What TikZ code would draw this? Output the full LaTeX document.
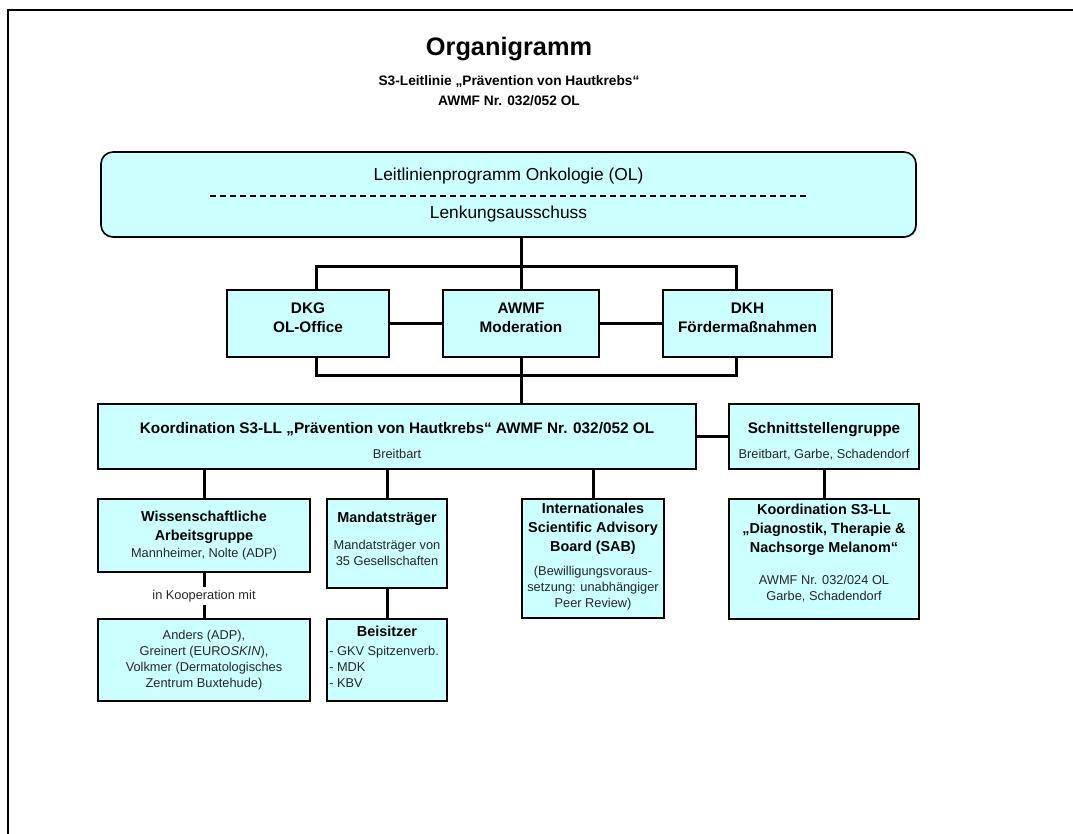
\documentclass[tikz,border=0pt]{standalone}
\usepackage{fontspec}
\setmainfont{Liberation Sans}
\usetikzlibrary{shadows}
\definecolor{boxfill}{RGB}{204,255,255}
\begin{document}
\begin{tikzpicture}[x=0.75pt,y=-0.75pt]
\tikzset{
 box/.style={draw=black, line width=1.2pt, fill=boxfill, inner sep=0pt,
   drop shadow={shadow xshift=0.8pt, shadow yshift=-0.8pt, fill=black!35, opacity=0.6}},
 conn/.style={line width=2.25pt},
 bt/.style={font=\fontsize{11.5}{14.2}\selectfont\bfseries, align=center, inner sep=0pt, anchor=base},
 bts/.style={font=\fontsize{10.8}{14.2}\selectfont\bfseries, align=center, inner sep=0pt, anchor=base},
 st/.style={font=\fontsize{9.6}{12}\selectfont, align=center, inner sep=0pt, anchor=base, text=black!85},
}
\useasboundingbox (0,0) rectangle (1073,834);
% frame
\coordinate (fbl) at (8,834);
\coordinate (ftl) at (8,10);
\coordinate (ftr) at (1073,10);
\draw[line width=1.5pt] (fbl) -- (ftl) -- (ftr);

% title (anchor base = baseline of the last line)
\node[font=\fontsize{19}{23}\selectfont\bfseries, anchor=base, inner sep=0pt] (title) at (509,56) {Organigramm};
\node[font=\fontsize{10.3}{15}\selectfont\bfseries, align=center, anchor=base, inner sep=0pt] (sub) at (509,106) {S3-Leitlinie „Prävention von Hautkrebs“\\AWMF Nr. 032/052 OL};

% top box
\node[box, rounded corners=9pt, minimum width=611.25pt, minimum height=63.75pt] (top) at (508.5,194.5) {};
\node[font=\fontsize{13}{16}\selectfont, anchor=base, inner sep=0pt] (olT) at (508.5,181) {Leitlinienprogramm Onkologie (OL)};
\coordinate (dashL) at (210,196);
\coordinate (dashR) at (808,196);
\draw[line width=1.1pt, dash pattern=on 4.5pt off 3pt] (dashL) -- (dashR);
\node[font=\fontsize{13}{16}\selectfont, anchor=base, inner sep=0pt] (lenk) at (508.5,219) {Lenkungsausschuss};

% second row
\node[box, minimum width=121.5pt, minimum height=50.25pt] (dkg) at (308,323.5) {};
\node[bt] (dkgT) at (308,332) {DKG\\OL-Office};
\node[box, minimum width=117pt, minimum height=50.25pt] (awmf) at (521,323.5) {};
\node[bt] (awmfT) at (521,332) {AWMF\\Moderation};
\node[box, minimum width=126.75pt, minimum height=50.25pt] (dkh) at (747.5,323.5) {};
\node[bt] (dkhT) at (747.5,332) {DKH\\Fördermaßnahmen};

% coordination row
\node[box, minimum width=448.5pt, minimum height=48.75pt] (koord) at (397,436.5) {};
\node[bt] (koordT) at (397,433) {Koordination S3-LL „Prävention von Hautkrebs“ AWMF Nr. 032/052 OL};
\node[st] (koordN) at (397,458) {Breitbart};
\node[box, minimum width=142.5pt, minimum height=48.75pt] (schnitt) at (824,436.5) {};
\node[bt] (schnittT) at (824,433) {Schnittstellengruppe};
\node[st] (schnittN) at (824,458) {Breitbart, Garbe, Schadendorf};

% lower row
\node[box, minimum width=159pt, minimum height=54.75pt] (wiss) at (204,535.5) {};
\node[bts] (wissT) at (204,540) {Wissenschaftliche\\Arbeitsgruppe};
\node[st] (wissN) at (204,557) {Mannheimer, Nolte (ADP)};

\node[box, minimum width=90pt, minimum height=66.75pt] (mandat) at (387,543.5) {};
\node[bts] (mandatT) at (387,522) {Mandatsträger};
\node[st] (mandatN) at (387,565) {Mandatsträger von\\35 Gesellschaften};

\node[box, minimum width=106.5pt, minimum height=89.25pt] (int) at (593,558.5) {};
\node[bts] (intT) at (593,551) {Internationales\\Scientific Advisory\\Board (SAB)};
\node[st] (intN) at (593,607) {(Bewilligungsvoraus-\\setzung: unabhängiger\\Peer Review)};

\node[box, minimum width=142.5pt, minimum height=90pt] (koord2) at (824,559) {};
\node[bts] (koord2T) at (824,552) {Koordination S3-LL\\„Diagnostik, Therapie \&\\Nachsorge Melanom“};
\node[st] (koord2N) at (824,600) {AWMF Nr. 032/024 OL\\Garbe, Schadendorf};

% bottom row
\node[box, minimum width=159pt, minimum height=61.5pt] (anders) at (204,660) {};
\node[st] (andersT) at (204,687) {Anders (ADP),\\Greinert (EURO\textit{SKIN}),\\Volkmer (Dermatologisches\\Zentrum Buxtehude)};
\node[box, minimum width=90pt, minimum height=61.5pt] (beis) at (387,660) {};
\node[bts] (beisT) at (387,636) {Beisitzer};
\node[st, align=left, anchor=base west] (beisN) at (329,687) {- GKV Spitzenverb.\\- MDK\\- KBV};

\node[st, anchor=center, inner sep=2pt] (koop) at (204,596) {in Kooperation mit};

% connectors
\coordinate (jl) at (316,266);
\coordinate (jr) at (736,266);
\coordinate (kl) at (316,375);
\coordinate (kr) at (736,375);
\draw[conn] (top.south -| awmf.north) -- (awmf.north);
\draw[conn] (dkg.north -| jl) -- (jl) -- (jr) -- (dkh.north -| jr);
\draw[conn] (dkg.east) -- (awmf.west);
\draw[conn] (awmf.east) -- (dkh.west);
\draw[conn] (dkg.south -| kl) -- (kl) -- (kr) -- (dkh.south -| kr);
\draw[conn] (awmf.south) -- (koord.north -| awmf.south);
\draw[conn] (koord.east) -- (schnitt.west);
\draw[conn] (schnitt.south) -- (koord2.north);
\draw[conn] (koord.south -| wiss.north) -- (wiss.north);
\draw[conn] (koord.south -| mandat.north) -- (mandat.north);
\draw[conn] (koord.south -| int.north) -- (int.north);
\draw[conn] (wiss.south) -- (koop.north);
\draw[conn] (koop.south) -- (anders.north);
\draw[conn] (mandat.south) -- (beis.north);
\end{tikzpicture}
\end{document}
